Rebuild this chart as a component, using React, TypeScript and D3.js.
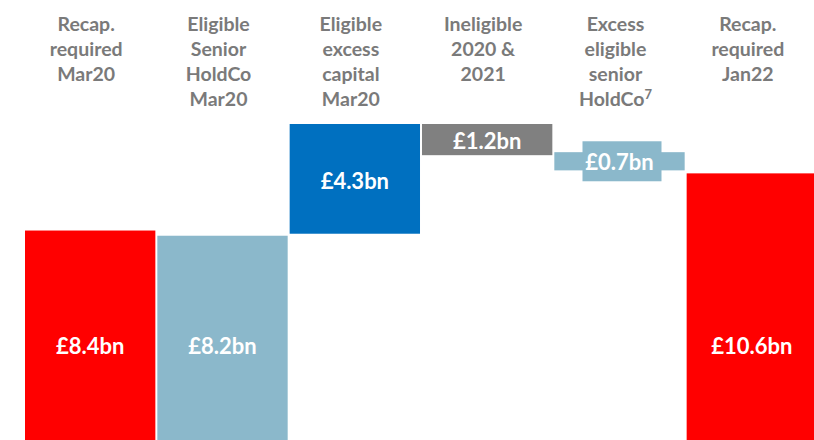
import React from "react";
import * as d3 from "d3";

const categories: string[][] = [
  ["Recap.", "required", "Mar20"],
  ["Eligible", "Senior", "HoldCo", "Mar20"],
  ["Eligible", "excess", "capital", "Mar20"],
  ["Ineligible", "2020 &", "2021"],
  ["Excess", "eligible", "senior", "HoldCo"],
  ["Recap.", "required", "Jan22"],
];
const superscripts: string[] = ["", "", "", "", "7", ""];
const values: number[] = [8.4, 8.2, 4.3, -1.2, -0.7, 10.6];
const kinds: string[] = ["total", "start", "up", "down", "down", "total"];
const valueLabels: string[] = ["£8.4bn", "£8.2bn", "£4.3bn", "£1.2bn", "£0.7bn", "£10.6bn"];
const colors: string[] = ["#FF0000", "#8BB8CB", "#0070C0", "#808080", "#8BB8CB", "#FF0000"];

const W = 814;
const H = 440;
const FONT = "Lato, 'Open Sans', sans-serif";

export default function App() {
  const x = d3
    .scaleBand<number>()
    .domain(d3.range(values.length))
    .range([25, 817])
    .paddingInner(0.015)
    .paddingOuter(0);
  const y = d3.scaleLinear().domain([0, 12.5]).range([448.8, 124]);

  // waterfall levels
  let running = 0;
  const bars = values.map((v, i) => {
    let lo: number, hi: number;
    if (kinds[i] === "total" || kinds[i] === "start") {
      lo = 0;
      hi = v;
      running = v;
    } else {
      const next = running + v;
      lo = Math.min(running, next);
      hi = Math.max(running, next);
      running = next;
    }
    return { i, lo, hi };
  });

  return (
    <svg
      width={W}
      height={H}
      style={{ position: "fixed", left: 0, top: 0, background: "#fff" }}
      fontFamily={FONT}
    >
      {bars.map(({ i, lo, hi }) => {
        const x0 = x(i)!;
        const bw = x.bandwidth();
        const yTop = y(hi);
        const yBot = y(lo);
        const floating = kinds[i] === "up" || kinds[i] === "down";
        const small = floating && yBot - yTop < 25;
        const cy = (yTop + yBot) / 2 - (small ? 3 : 0);
        const labelY = floating ? cy + 9 : 354;
        return (
          <g key={i}>
            <rect
              x={x0}
              y={yTop - (small ? 3 : 0)}
              width={bw}
              height={yBot - yTop - (i === 2 ? 2 : 0)}
              fill={colors[i]}
            />
            {small && (
              <rect x={x0 + bw / 2 - 37} y={cy - 20} width={79} height={40} fill={colors[i]} />
            )}
            <text
              x={x0 + bw / 2}
              y={labelY}
              textAnchor="middle"
              fill="#fff"
              fontWeight={700}
              fontSize={22}
            >
              {valueLabels[i]}
            </text>
          </g>
        );
      })}
      {categories.map((lines, i) => {
        const cx = x(i)! + x.bandwidth() / 2 - 4;
        return (
          <text
            key={"c" + i}
            x={cx}
            textAnchor="middle"
            fill="#7A7A7A"
            fontWeight={700}
            fontSize={19.5}
          >
            {lines.map((ln, j) => (
              <tspan key={j} x={cx} y={31 + j * 25}>
                {ln}
                {j === lines.length - 1 && superscripts[i] ? (
                  <tspan fontSize={13} dy={-7}>
                    {superscripts[i]}
                  </tspan>
                ) : null}
              </tspan>
            ))}
          </text>
        );
      })}
    </svg>
  );
}
